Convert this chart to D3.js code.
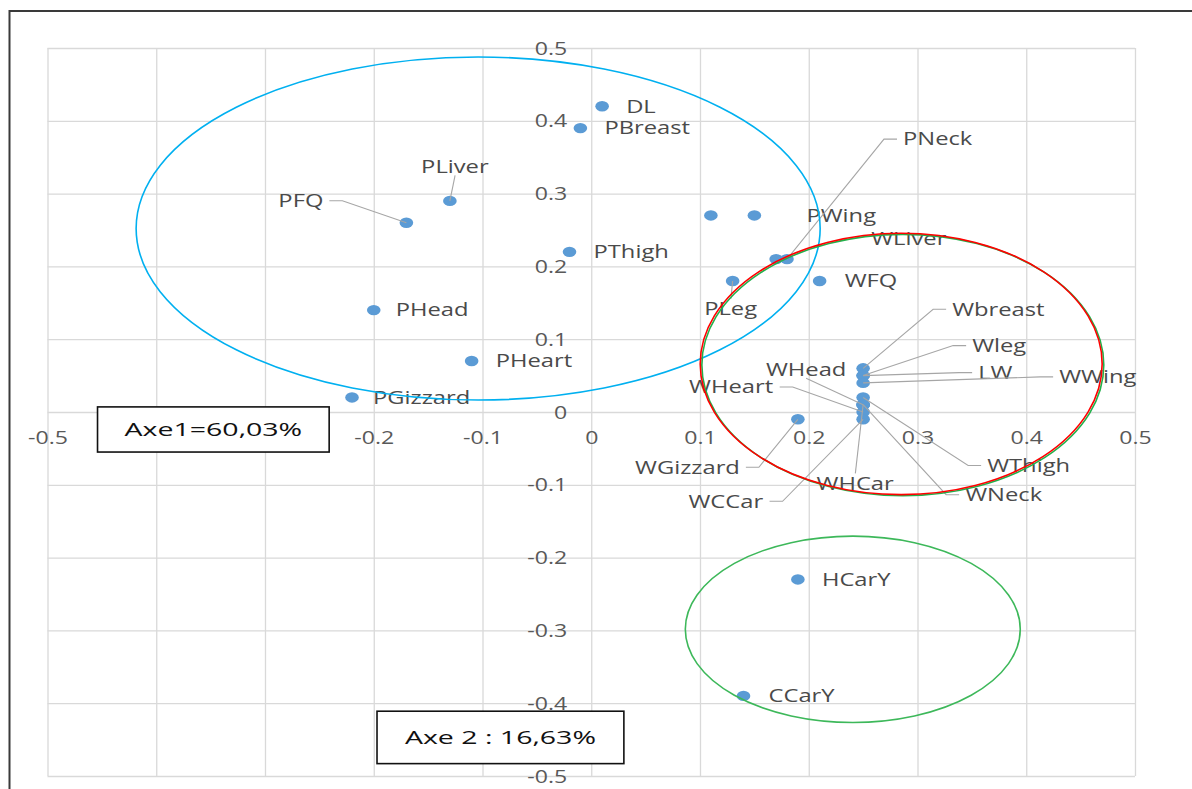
<!DOCTYPE html>
<html>
<head>
<meta charset="utf-8">
<script src="https://cdn.jsdelivr.net/npm/d3@7"></script>
<style>
  html, body { margin: 0; padding: 0; background: #fff; }
  svg { display: block; }
  text { font-family: "Open Sans", "Noto Sans", sans-serif; }
</style>
</head>
<body>
<svg id="chart" width="1192" height="789"></svg>
<script>
// ---- data: coordinates of each variable on the first two factorial axes ----
const names = ["DL", "PBreast", "PLiver", "PFQ", "PThigh", "PHead", "PHeart", "PGizzard", "",
  "PWing", "PLeg", "WLiver", "PNeck", "WFQ",
  "Wbreast", "Wleg", "LW", "WWing", "WHead", "WHeart", "WThigh", "WNeck", "WHCar", "WCCar",
  "WGizzard", "HCarY", "CCarY"];
const axis1 = [0.01, -0.01, -0.13, -0.17, -0.02, -0.20, -0.11, -0.22, 0.11,
  0.15, 0.13, 0.17, 0.18, 0.21,
  0.25, 0.25, 0.25, 0.25, 0.25, 0.25, 0.25, 0.25, 0.25, 0.25,
  0.19, 0.19, 0.14];
const axis2 = [0.42, 0.39, 0.29, 0.26, 0.22, 0.14, 0.07, 0.02, 0.27,
  0.27, 0.18, 0.21, 0.21, 0.18,
  0.06, 0.05, 0.05, 0.04, 0.01, 0.00, 0.02, 0.01, 0.01, -0.01,
  -0.01, -0.23, -0.39];

// axis ticks
const tickValues = [-0.5, -0.4, -0.3, -0.2, -0.1, 0, 0.1, 0.2, 0.3, 0.4, 0.5];
const tickLabels = ["-0.5", "-0.4", "-0.3", "-0.2", "-0.1", "0", "0.1", "0.2", "0.3", "0.4", "0.5"];

// group outlines (centre and half-widths in axis units)
const groupCx = [-0.104, 0.2865, 0.285, 0.2405];
const groupCy = [0.252, 0.0645, 0.066, -0.2985];
const groupRx = [0.3145, 0.1848, 0.1848, 0.154];
const groupRy = [0.2356, 0.1795, 0.1795, 0.128];
const groupColors = ["#00b0f0", "#22b04b", "#ff0000", "#3db85a"];

// axis inertia captions
const captions = ["Axe1=60,03%", "Axe 2 : 16,63%"];

// ---- label placement (pixel offsets from the marker) ----
const labelLayout = {
  PLiver:   { dx: 5,    dy: -34, anchor: "middle", leader: "v" },
  PFQ:      { dx: -83,  dy: -22, anchor: "end",    leader: "h" },
  PHead:    { dx: 22 },
  PGizzard: { dx: 21 },
  PWing:    { dx: 52 },
  PLeg:     { dx: -2,   dy: 28,  anchor: "middle", leader: "v" },
  WLiver:   { dx: 95,   dy: -20 },
  PNeck:    { dx: 116,  dy: -120, leader: "h" },
  WFQ:      { dx: 25 },
  Wbreast:  { dx: 89,   dy: -59, leader: "h" },
  Wleg:     { dx: 109,  dy: -30, leader: "h" },
  LW:       { dx: 115,  dy: -3,  leader: "h" },
  WWing:    { dx: 196,  dy: -6,  leader: "h" },
  WHead:    { dx: -57,  dy: -35, anchor: "middle", leader: "v" },
  WHeart:   { dx: -90,  dy: -25, anchor: "end",    leader: "h" },
  WThigh:   { dx: 124,  dy: 68,  leader: "h" },
  WNeck:    { dx: 102,  dy: 90,  leader: "h" },
  WHCar:    { dx: -8,   dy: 79,  anchor: "middle", leader: "v" },
  WCCar:    { dx: -100, dy: 82,  anchor: "end",    leader: "h" },
  WGizzard: { dx: -58,  dy: 48,  anchor: "end",    leader: "h" },
  CCarY:    { dx: 25 }
};
const defaultLayout = { dx: 24, dy: 0, anchor: "start", leader: null };

// ---- drawing ----
const W = 1192, H = 789;
const plot = { left: 47.5, right: 1135, top: 48, bottom: 776 };
const SX = 1.32;           // horizontal stretch of the text
const svg = d3.select("#chart");

const x = d3.scaleLinear().domain([-0.5, 0.5]).range([plot.left, plot.right]);
const y = d3.scaleLinear().domain([-0.5, 0.5]).range([plot.bottom, plot.top]);

svg.append("rect").attr("width", W).attr("height", H).attr("fill", "#fff");

// frame
svg.append("rect")
  .attr("x", 9.5).attr("y", 11)
  .attr("width", 1400).attr("height", 1000)
  .attr("fill", "none").attr("stroke", "#3a3a3a").attr("stroke-width", 2);

// gridlines
const grid = svg.append("g");
grid.append("g")
  .attr("transform", `translate(0,${plot.bottom})`)
  .call(d3.axisBottom(x).tickValues(tickValues).tickSize(-(plot.bottom - plot.top)).tickFormat(""))
  .call(g => g.select(".domain").remove())
  .call(g => g.selectAll("line").attr("stroke", "#d9d9d9").attr("stroke-width", 1.3));
grid.append("g")
  .attr("transform", `translate(${plot.left},0)`)
  .call(d3.axisLeft(y).tickValues(tickValues).tickSize(-(plot.right - plot.left)).tickFormat(""))
  .call(g => g.select(".domain").remove())
  .call(g => g.selectAll("line").attr("stroke", "#d9d9d9").attr("stroke-width", 1.3));

// tick labels along the zero lines
const fmt = v => tickLabels[tickValues.indexOf(v)];
svg.append("g")
  .attr("transform", `translate(${x(0)},0)`)
  .call(d3.axisLeft(y).tickValues(tickValues).tickSize(0).tickFormat(fmt))
  .call(g => g.select(".domain").remove())
  .call(g => g.selectAll("text")
    .attr("x", 0).attr("dy", "0.35em")
    .attr("transform", `translate(-24,0) scale(${SX},1)`)
    .attr("fill", "#595959").attr("font-size", 17.5)
    .style("font-family", '"Open Sans", sans-serif'));
svg.append("g")
  .attr("transform", `translate(0,${y(0)})`)
  .call(d3.axisBottom(x).tickValues(tickValues).tickSize(0).tickFormat(fmt))
  .call(g => g.select(".domain").remove())
  .call(g => g.selectAll("text")
    .attr("y", 0).attr("dy", "0.35em")
    .attr("transform", `translate(0,26) scale(${SX},1)`)
    .attr("fill", "#595959").attr("font-size", 17.5)
    .style("font-family", '"Open Sans", sans-serif'));

const points = names.map((n, i) => ({ name: n, px: x(axis1[i]), py: y(axis2[i]) }));

// markers
svg.append("g").selectAll("ellipse")
  .data(points)
  .join("ellipse")
  .attr("cx", d => d.px).attr("cy", d => d.py)
  .attr("rx", 6.8).attr("ry", 5.2)
  .attr("fill", "#5b9bd5");

// data labels
const labelG = svg.append("g");
const leaderG = svg.append("g");
points.filter(d => d.name).forEach(d => {
  const L = Object.assign({}, defaultLayout, labelLayout[d.name] || {});
  const ax = d.px + L.dx, ay = d.py + L.dy;
  const t = labelG.append("text")
    .attr("transform", `translate(${ax},${ay}) scale(${SX},1)`)
    .attr("text-anchor", L.anchor)
    .attr("dy", "0.35em")
    .attr("font-size", 18)
    .attr("fill", "#4a4a4a")
    .text(d.name);
  if (!L.leader) return;
  const bb = t.node().getBBox();
  const left = ax + bb.x * SX, right = ax + (bb.x + bb.width) * SX;
  const top = ay + bb.y, bottom = ay + bb.y + bb.height;
  let pts;
  if (L.leader === "h") {
    if (left > d.px) {
      pts = [[left - 6, ay], [left - 19, ay], [d.px, d.py]];
    } else {
      pts = [[right + 6, ay], [right + 19, ay], [d.px, d.py]];
    }
  } else {
    const cx = (left + right) / 2;
    pts = top > d.py ? [[cx, top + 3], [d.px, d.py]] : [[cx, bottom - 3], [d.px, d.py]];
  }
  leaderG.append("path")
    .attr("d", d3.line()(pts))
    .attr("fill", "none").attr("stroke", "#a6a6a6").attr("stroke-width", 1.1);
});

// group outlines
svg.append("g").selectAll("ellipse")
  .data(groupCx.map((c, i) => i))
  .join("ellipse")
  .attr("cx", i => x(groupCx[i]))
  .attr("cy", i => y(groupCy[i]))
  .attr("rx", i => x(groupCx[i] + groupRx[i]) - x(groupCx[i]))
  .attr("ry", i => y(groupCy[i]) - y(groupCy[i] + groupRy[i]))
  .attr("fill", "none")
  .attr("stroke", i => groupColors[i])
  .attr("stroke-width", 1.6);

// caption boxes
const boxes = [
  { x0: -0.454, x1: -0.241, y0: 0.007, y1: -0.055 },
  { x0: -0.197, x1: 0.030,  y0: -0.411, y1: -0.483 }
];
boxes.forEach((b, i) => {
  const bx = x(b.x0), by = y(b.y0), bw = x(b.x1) - x(b.x0), bh = y(b.y1) - y(b.y0);
  svg.append("rect")
    .attr("x", bx).attr("y", by).attr("width", bw).attr("height", bh)
    .attr("fill", "#fff").attr("stroke", "#111").attr("stroke-width", 1.6);
  svg.append("text")
    .attr("transform", `translate(${bx + bw / 2},${by + bh / 2}) scale(1.5,1)`)
    .attr("text-anchor", "middle").attr("dy", "0.35em")
    .attr("font-size", 19).attr("fill", "#111")
    .text(captions[i]);
});
</script>
</body>
</html>
